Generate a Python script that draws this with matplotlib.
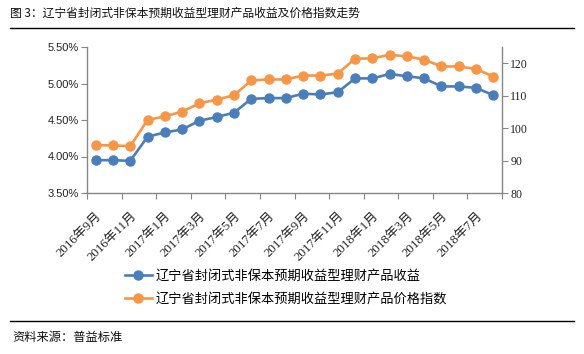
import matplotlib
matplotlib.use("Agg")
import matplotlib.pyplot as plt
from matplotlib.ticker import FuncFormatter, FixedLocator

plt.rcParams['font.family'] = ['Noto Sans CJK SC', 'DejaVu Sans']

categories = ["2016年9月", "2016年10月", "2016年11月", "2016年12月",
              "2017年1月", "2017年2月", "2017年3月", "2017年4月",
              "2017年5月", "2017年6月", "2017年7月", "2017年8月",
              "2017年9月", "2017年10月", "2017年11月", "2017年12月",
              "2018年1月", "2018年2月", "2018年3月", "2018年4月",
              "2018年5月", "2018年6月", "2018年7月", "2018年8月"]
yield_pct = [3.95, 3.95, 3.94, 4.27, 4.33, 4.37, 4.49, 4.54, 4.60, 4.79, 4.80, 4.80,
             4.86, 4.85, 4.88, 5.07, 5.07, 5.13, 5.10, 5.07, 4.96, 4.96, 4.94, 4.84]
price_index = [94.7, 94.7, 94.4, 102.5, 103.6, 105.1, 107.6, 108.8, 110.1, 114.7, 115.0, 115.0,
               116.2, 116.2, 116.8, 121.4, 121.5, 122.6, 122.1, 121.1, 119.0, 119.0, 118.2, 115.9]
label_yield = "辽宁省封闭式非保本预期收益型理财产品收益"
label_index = "辽宁省封闭式非保本预期收益型理财产品价格指数"
title = "图 3：辽宁省封闭式非保本预期收益型理财产品收益及价格指数走势"
source = "资料来源：普益标准"

blue = "#4A7EBB"
orange = "#F79646"
axis_gray = "#868686"

fig = plt.figure(figsize=(5.84, 3.54), dpi=100)
ax = fig.add_axes([87/584, 1-193/354, (502-87)/584, (193-47)/354])
ax2 = ax.twinx()

x = list(range(len(categories)))
l1, = ax.plot(x, [v/100 for v in yield_pct], color=blue, lw=1.9, marker='o', ms=6.5,
              label=label_yield)
l2, = ax2.plot(x, price_index, color=orange, lw=1.9, marker='o', ms=6.5,
               label=label_index)

ax.set_xlim(-0.5, len(categories)-0.5)
ax.set_ylim(0.035, 0.055)
ax.set_yticks([0.035, 0.040, 0.045, 0.050, 0.055])
ax.yaxis.set_major_formatter(FuncFormatter(lambda v, p: f"{v*100:.2f}%"))
ax2.set_ylim(80, 125)
ax2.set_yticks([80, 90, 100, 110, 120])

# category boundary ticks, labels at every other category
ax.xaxis.set_major_locator(FixedLocator([i - 0.5 for i in range(0, len(categories)+1, 2)]))
ax.xaxis.set_major_formatter(FuncFormatter(lambda v, p: ""))
lab_pos = list(range(0, len(categories), 2))
ax.xaxis.set_minor_locator(FixedLocator(lab_pos))
ax.set_xticklabels([categories[i] for i in lab_pos], minor=True, rotation=45,
                   ha='right', rotation_mode='anchor', fontsize=9.3,
                   family=['Liberation Serif', 'Noto Sans CJK SC'], color='#222222')
ax.tick_params(axis='x', which='minor', length=0, pad=12)
ax.tick_params(axis='x', which='major', length=4, color=axis_gray, direction='out')

for a in (ax, ax2):
    a.spines['top'].set_visible(False)
    for s in ('left', 'right', 'bottom'):
        a.spines[s].set_color(axis_gray)
        a.spines[s].set_linewidth(1.0)
ax.spines['right'].set_visible(False)
ax2.spines['left'].set_visible(False)
ax2.spines['bottom'].set_visible(False)

ax.tick_params(axis='y', length=4, color=axis_gray, labelsize=8, labelcolor='#222222', pad=2)
for t in ax.get_yticklabels():
    t.set_family(['Liberation Sans'])
ax2.tick_params(axis='y', length=4, color=axis_gray, labelsize=8.5, labelcolor='#222222', pad=2)
for t in ax2.get_yticklabels():
    t.set_family(['Liberation Serif'])

fig.legend(handles=[l1, l2], loc='upper left', bbox_to_anchor=(120/584, 1-264/354),
           frameon=False, fontsize=9.5, handlelength=2.0, handletextpad=0.3,
           labelspacing=0.75, borderaxespad=0)

fig.text(10/584, 1-13/354, title, fontsize=8.5, va='center', ha='left', color='#111111')
fig.add_artist(plt.Line2D([10/584, 574/584], [1-28/354, 1-28/354], color='black', lw=1,
                          transform=fig.transFigure))
fig.add_artist(plt.Line2D([10/584, 574/584], [1-321/354, 1-321/354], color='black', lw=1,
                          transform=fig.transFigure))
fig.text(12/584, 1-338/354, source, fontsize=8.8, va='center', ha='left', color='#111111')

fig.savefig("out.png", dpi=100)
